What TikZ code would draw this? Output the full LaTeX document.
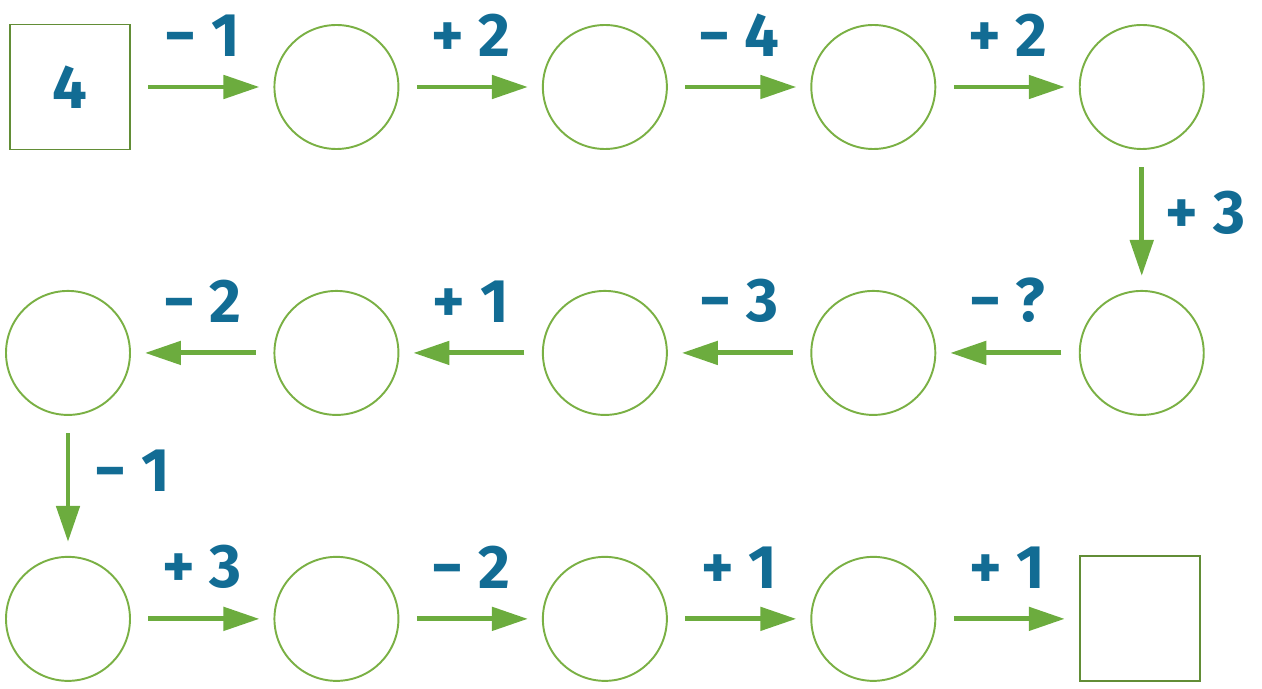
\documentclass[tikz,border=0pt]{standalone}
\usepackage{fontspec}
\setmainfont{Fira Sans}
\usetikzlibrary{arrows.meta, positioning}
\definecolor{leaf}{RGB}{108,172,62}
\definecolor{rim}{RGB}{122,176,68}
\definecolor{ink}{RGB}{18,108,148}

\begin{document}
\begin{tikzpicture}[
    node distance=2.8cm and 2.85cm,
    ring/.style={draw=rim, line width=1.1pt, circle, minimum size=2.48cm, inner sep=0pt},
    box/.style={draw=rim!80!black, line width=1.1pt, minimum width=2.4cm, minimum height=2.5cm,
                inner sep=0pt, text=ink, font=\fontsize{35}{37}\selectfont\bfseries},
    arrow/.style={-{Triangle[length=0.72cm, width=0.46cm]}, draw=leaf, line width=2.8pt,
                  shorten <=0.35cm, shorten >=0.28cm},
    op/.style={text=ink, font=\fontsize{35}{37}\selectfont\bfseries, inner sep=1pt},
]
    \useasboundingbox (0,0) rectangle (25.24,-13.78);

    % Top row
    \node[box] (start) at (1.4,-1.74) {4};
    \node[ring, right=of start] (a1) {};
    \node[ring, right=of a1] (a2) {};
    \node[ring, right=of a2] (a3) {};
    \node[ring, right=of a3] (a4) {};

    % Middle row, right to left
    \node[ring, below=of a4] (b1) {};
    \node[ring, left=of b1] (b2) {};
    \node[ring, left=of b2] (b3) {};
    \node[ring, left=of b3] (b4) {};
    \node[ring, left=of b4] (b5) {};

    % Bottom row
    \node[ring, below=of b5] (c1) {};
    \node[ring, right=of c1] (c2) {};
    \node[ring, right=of c2] (c3) {};
    \node[ring, right=of c3] (c4) {};
    \node[box, right=of c4] (goal) {};

    % Arrows
    \draw[arrow] (start) -- node[op, above=0.52cm] {− 1} (a1);
    \draw[arrow] (a1) -- node[op, above=0.52cm] {+ 2} (a2);
    \draw[arrow] (a2) -- node[op, above=0.52cm] {− 4} (a3);
    \draw[arrow] (a3) -- node[op, above=0.52cm] {+ 2} (a4);
    \draw[arrow] (a4) -- node[op, right=0.4cm, yshift=0.15cm] {+ 3} (b1);
    \draw[arrow] (b1) -- node[op, above=0.52cm] {− ?} (b2);
    \draw[arrow] (b2) -- node[op, above=0.52cm] {− 3} (b3);
    \draw[arrow] (b3) -- node[op, above=0.52cm] {+ 1} (b4);
    \draw[arrow] (b4) -- node[op, above=0.52cm] {− 2} (b5);
    \draw[arrow] (b5) -- node[op, right=0.45cm, yshift=0.3cm] {− 1} (c1);
    \draw[arrow] (c1) -- node[op, above=0.52cm] {+ 3} (c2);
    \draw[arrow] (c2) -- node[op, above=0.52cm] {− 2} (c3);
    \draw[arrow] (c3) -- node[op, above=0.52cm] {+ 1} (c4);
    \draw[arrow] (c4) -- node[op, above=0.52cm] {+ 1} (goal);
\end{tikzpicture}
\end{document}
